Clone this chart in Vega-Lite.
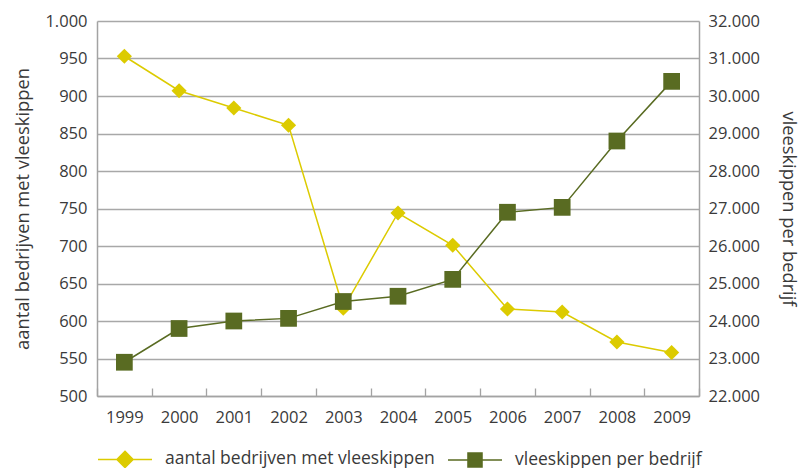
{
  "$schema": "https://vega.github.io/schema/vega-lite/v6.json",
  "width": 602,
  "height": 375,
  "autosize": {"type": "none"},
  "padding": {"left": 97, "top": 21, "right": 112, "bottom": 72},
  "background": "white",
  "config": {
    "font": "Open Sans",
    "view": {"stroke": null},
    "axis": {
      "labelFont": "Open Sans",
      "titleFont": "Open Sans",
      "labelColor": "#3a3a3a",
      "titleColor": "#3a3a3a",
      "labelFontSize": 16.5,
      "titleFontSize": 18.3,
      "titleFontWeight": "normal",
      "domainColor": "#a3a3a3",
      "domainWidth": 1.5,
      "gridColor": "#a8a8a8",
      "gridWidth": 1.3,
      "tickColor": "#a3a3a3",
      "tickWidth": 1.3
    },
    "legend": {
      "labelFont": "Open Sans",
      "labelFontSize": 17.5,
      "labelColor": "#3a3a3a",
      "labelLimit": 0
    }
  },
  "data": {
    "values": [
      {"jaar": "1999", "aantal": 953, "per": 22900},
      {"jaar": "2000", "aantal": 907, "per": 23800},
      {"jaar": "2001", "aantal": 884, "per": 24000},
      {"jaar": "2002", "aantal": 861, "per": 24070},
      {"jaar": "2003", "aantal": 617, "per": 24520},
      {"jaar": "2004", "aantal": 744, "per": 24660},
      {"jaar": "2005", "aantal": 701, "per": 25110},
      {"jaar": "2006", "aantal": 616, "per": 26900},
      {"jaar": "2007", "aantal": 612, "per": 27030},
      {"jaar": "2008", "aantal": 572, "per": 28800},
      {"jaar": "2009", "aantal": 558, "per": 30390}
    ]
  },
  "encoding": {
    "x": {
      "field": "jaar",
      "type": "ordinal",
      "scale": {"paddingInner": 0, "paddingOuter": 0},
      "axis": {
        "title": null,
        "labelAngle": 0,
        "tickBand": "extent",
        "tickSize": -8,
        "labelPadding": 21,
        "grid": false
      }
    }
  },
  "layer": [
    {
      "encoding": {
        "y": {
          "field": "aantal",
          "type": "quantitative",
          "scale": {"domain": [500, 1000], "zero": false, "nice": false},
          "axis": {
            "orient": "left",
            "title": "aantal bedrijven met vleeskippen",
            "values": [500, 550, 600, 650, 700, 750, 800, 850, 900, 950, 1000],
            "labelExpr": "replace(format(datum.value, ','), ',', '.')",
            "ticks": false,
            "labelPadding": 10,
            "titlePadding": 12,
            "grid": true
          }
        }
      },
      "layer": [
        {
          "mark": {"type": "line", "color": "#dccb00", "strokeWidth": 1.5},
          "encoding": {
            "color": {
              "datum": "aantal bedrijven met vleeskippen",
              "type": "nominal",
              "scale": {
                "domain": ["aantal bedrijven met vleeskippen", "vleeskippen per bedrijf"],
                "range": ["#dccb00", "#596b22"]
              },
              "legend": {
                "title": null,
                "orient": "bottom",
                "direction": "horizontal",
                "offset": 5,
                "symbolSize": 2916,
                "columnPadding": 10,
                "labelOffset": 12,
                "labelLimit": 0,
                "encode": {
                  "symbols": {
                    "update": {
                      "shape": {"signal": "datum.value === 'aantal bedrijven met vleeskippen' ? 'M-1,0H1M0,-0.3L0.3,0L0,0.3L-0.3,0Z' : 'M-1,0H1M-0.26,-0.26H0.26V0.26H-0.26Z'"},
                      "fill": {"scale": "color", "field": "value"},
                      "stroke": {"scale": "color", "field": "value"},
                      "strokeWidth": {"value": 1.5},
                      "opacity": {"value": 1},
                      "size": {"value": 2916}
                    }
                  }
                }
              }
            }
          }
        },
        {
          "mark": {"type": "point", "shape": "diamond", "filled": true, "color": "#dccb00", "opacity": 1, "size": 230}
        }
      ]
    },
    {
      "encoding": {
        "y": {
          "field": "per",
          "type": "quantitative",
          "scale": {"domain": [22000, 32000], "zero": false, "nice": false},
          "axis": {
            "orient": "right",
            "title": "vleeskippen per bedrijf",
            "values": [22000, 23000, 24000, 25000, 26000, 27000, 28000, 29000, 30000, 31000, 32000],
            "labelExpr": "replace(format(datum.value, ','), ',', '.')",
            "ticks": false,
            "labelPadding": 9,
            "titlePadding": 19,
            "grid": false
          }
        }
      },
      "layer": [
        {
          "mark": {"type": "line", "color": "#596b22", "strokeWidth": 1.5},
          "encoding": {
            "color": {"datum": "vleeskippen per bedrijf", "type": "nominal"}
          }
        },
        {
          "mark": {"type": "square", "color": "#596b22", "opacity": 1, "size": 280}
        }
      ]
    }
  ],
  "resolve": {"scale": {"y": "independent"}}
}
